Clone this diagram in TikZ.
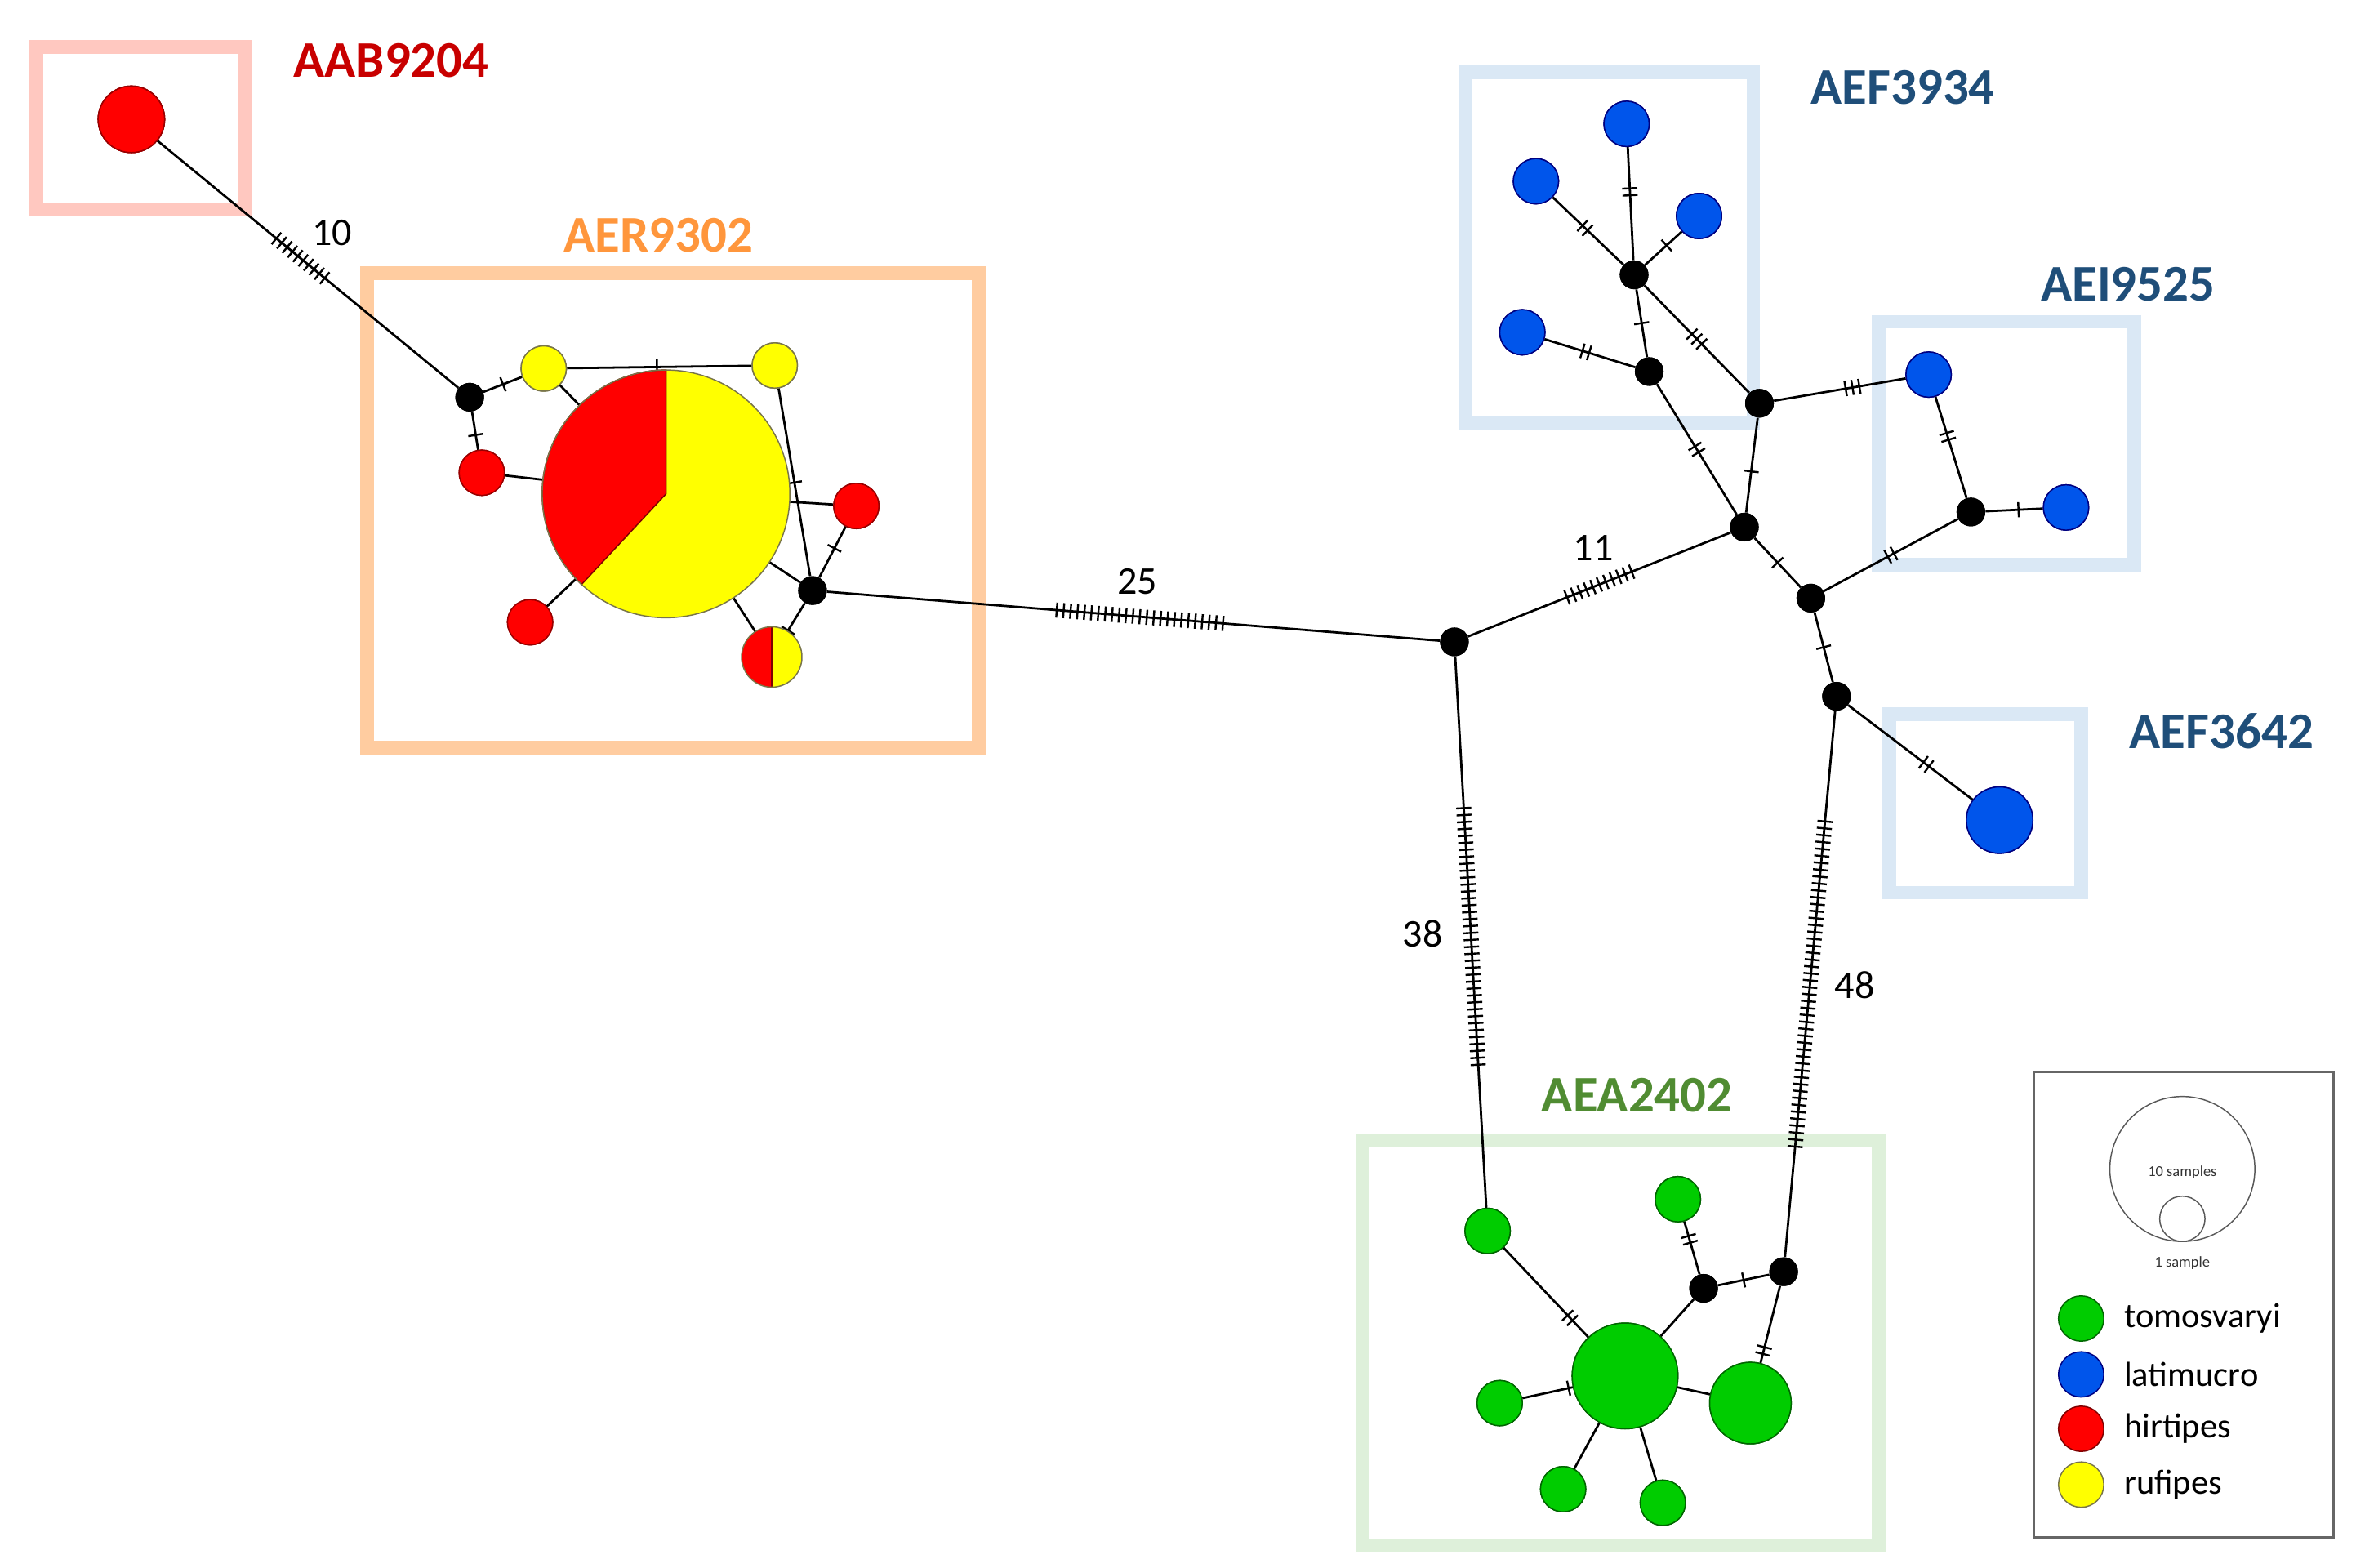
\documentclass[tikz,border=0pt]{standalone}
\usepackage{fontspec}
\setmainfont{Carlito}
\usetikzlibrary{calc}
\definecolor{cred}{RGB}{255,0,0}
\definecolor{cyel}{RGB}{255,255,0}
\definecolor{cblue}{RGB}{0,85,235}
\definecolor{cgreen}{RGB}{0,204,0}
\definecolor{bpink}{RGB}{255,200,192}
\definecolor{borange}{RGB}{255,204,160}
\definecolor{bblue}{RGB}{218,232,245}
\definecolor{bgreen}{RGB}{222,240,218}
\definecolor{tdred}{RGB}{200,0,0}
\definecolor{torange}{RGB}{255,150,60}
\definecolor{tblue}{RGB}{31,78,121}
\definecolor{tgreen}{RGB}{80,140,50}
\newcommand\hatch[4]{%
  \path (#1.center) -- coordinate[pos=#4](hm) (#2.center);
  \foreach \i in {1,...,#3}{%
    \pgfmathsetmacro\dd{(\i-(#3+1)/2)*4.6}
    \coordinate (hp) at ($(hm)!\dd pt!(#2.center)$);
    \draw[line width=1.3pt] ($(hp)!5pt!90:(#2.center)$) -- ($(hp)!5pt!-90:(#2.center)$);
  }}
\begin{document}
\begin{tikzpicture}[x=1pt,y=-1pt,
  hap/.style={circle,draw=black!70!green,line width=0.8pt,inner sep=0pt,minimum size=30pt},
  R/.style={hap,fill=cred,draw=red!60!black},
  Y/.style={hap,fill=cyel,draw=yellow!40!black},
  B/.style={hap,fill=cblue,draw=blue!50!black},
  G/.style={hap,fill=cgreen,draw=green!40!black},
  J/.style={circle,fill=black,inner sep=0pt,minimum size=19pt},
  box/.style={line width=9pt},
  lab/.style={font=\bfseries\fontsize{34}{36}\selectfont},
  num/.style={font=\fontsize{26}{28}\selectfont},
  edge/.style={line width=1.5pt}]
\useasboundingbox (0,0) rectangle (1560,1038);
% boxes
\draw[box,bpink] (24,31) rectangle (162,139);
\draw[box,borange] (243,181) rectangle (648,495);
\draw[box,bblue] (970,48) rectangle (1161,280);
\draw[box,bblue] (1244,213) rectangle (1413,374);
\draw[box,bblue] (1251,473) rectangle (1378,591);
\draw[box,bgreen] (902,755) rectangle (1244,1023);
% labels
\node[lab,text=tdred] (lAAB) at (259,40) {AAB9204};
\node[lab,text=torange] (lAER) at (436,156) {AER9302};
\node[lab,text=tblue] (lF34) at (1260,58) {AEF3934};
\node[lab,text=tblue] (lI95) at (1409,188) {AEI9525};
\node[lab,text=tblue] (lF36) at (1471,484) {AEF3642};
\node[lab,text=tgreen] (lAEA) at (1084,725) {AEA2402};
% nodes
\node[R,minimum size=44pt] (aab) at (87,79) {};
\node[J] (j1) at (311,263) {};
\node[Y] (y1) at (360,244) {};
\node[Y] (y2) at (513,242) {};
\node[R] (r1) at (319,313) {};
\node[R] (r2) at (567,335) {};
\node[R] (r3) at (351,412) {};
\node[circle,inner sep=0pt,minimum size=164pt] (pie) at (441,327) {};
\node[circle,inner sep=0pt,minimum size=40pt] (pm) at (511,435) {};
\node[J] (j2) at (538,391) {};
\node[J] (j3) at (963,425) {};
\node[J] (j4) at (1155,349) {};
\node[J] (j5) at (1199,396) {};
\node[J] (j6) at (1216,461) {};
\node[J] (j7) at (1165,267) {};
\node[J] (j8) at (1092,246) {};
\node[J] (j9) at (1082,182) {};
\node[J] (j10) at (1305,339) {};
\node[B] (b1) at (1077,82) {};
\node[B] (b2) at (1017,120) {};
\node[B] (b3) at (1125,143) {};
\node[B] (b4) at (1008,220) {};
\node[B] (b5) at (1277,248) {};
\node[B] (b6) at (1368,336) {};
\node[B,minimum size=44pt] (b7) at (1324,543) {};
\node[G] (g1) at (985,815) {};
\node[G] (g2) at (1111,794) {};
\node[G,minimum size=70pt] (g3) at (1076,911) {};
\node[G,minimum size=54pt] (g4) at (1159,929) {};
\node[G] (g5) at (993,929) {};
\node[G] (g6) at (1035,986) {};
\node[G] (g7) at (1101,995) {};
\node[J] (j11) at (1128,853) {};
\node[J] (j12) at (1181,842) {};
% edges (behind nodes)
\begin{scope}[on background layer/.try]
\end{scope}
\draw[edge] (aab) -- (j1); \hatch{aab}{j1}{10}{0.5}
\draw[edge] (j1) -- (y1); \hatch{j1}{y1}{1}{0.45}
\draw[edge] (j1) -- (r1); \hatch{j1}{r1}{1}{0.5}
\draw[edge] (y1) -- (pie);
\draw[edge] (y1) -- (y2); \hatch{y1}{y2}{1}{0.49}
\draw[edge] (y2) -- (j2); \hatch{y2}{j2}{1}{0.52}
\draw[edge] (r1) -- (pie);
\draw[edge] (r3) -- (pie);
\draw[edge] (r2) -- (pie);
\draw[edge] (r2) -- (j2); \hatch{r2}{j2}{1}{0.5}
\draw[edge] (pie) -- (j2);
\draw[edge] (pie) -- (pm);
\draw[edge] (j2) -- (pm); \hatch{j2}{pm}{1}{0.6}
\draw[edge] (j2) -- (j3); \hatch{j2}{j3}{25}{0.51}
\draw[edge] (j3) -- (j4); \hatch{j3}{j4}{11}{0.5}
\draw[edge] (j3) -- (g1); \hatch{j3}{g1}{38}{0.5}
\draw[edge] (j9) -- (b1); \hatch{j9}{b1}{2}{0.55}
\draw[edge] (j9) -- (b2); \hatch{j9}{b2}{2}{0.5}
\draw[edge] (j9) -- (b3); \hatch{j9}{b3}{1}{0.5}
\draw[edge] (j9) -- (j8); \hatch{j9}{j8}{1}{0.5}
\draw[edge] (j9) -- (j7); \hatch{j9}{j7}{3}{0.5}
\draw[edge] (b4) -- (j8); \hatch{b4}{j8}{2}{0.5}
\draw[edge] (j8) -- (j4); \hatch{j8}{j4}{2}{0.5}
\draw[edge] (j7) -- (j4); \hatch{j7}{j4}{1}{0.55}
\draw[edge] (j7) -- (b5); \hatch{j7}{b5}{3}{0.55}
\draw[edge] (b5) -- (j10); \hatch{b5}{j10}{2}{0.45}
\draw[edge] (j10) -- (b6); \hatch{j10}{b6}{1}{0.5}
\draw[edge] (j10) -- (j5); \hatch{j10}{j5}{2}{0.5}
\draw[edge] (j4) -- (j5); \hatch{j4}{j5}{1}{0.5}
\draw[edge] (j5) -- (j6); \hatch{j5}{j6}{1}{0.5}
\draw[edge] (j6) -- (b7); \hatch{j6}{b7}{2}{0.55}
\draw[edge] (j6) -- (j12); \hatch{j6}{j12}{48}{0.5}
\draw[edge] (j12) -- (j11); \hatch{j12}{j11}{1}{0.5}
\draw[edge] (j11) -- (g2); \hatch{j11}{g2}{2}{0.55}
\draw[edge] (j11) -- (g3);
\draw[edge] (j12) -- (g4); \hatch{j12}{g4}{2}{0.6}
\draw[edge] (g1) -- (g3); \hatch{g1}{g3}{2}{0.6}
\draw[edge] (g3) -- (g4); \hatch{g3}{g4}{1}{0.35}
\draw[edge] (g3) -- (g5); \hatch{g3}{g5}{1}{0.45}
\draw[edge] (g3) -- (g6); \hatch{g3}{g6}{1}{0.35}
\draw[edge] (g3) -- (g7); \hatch{g3}{g7}{1}{0.35}
% redraw nodes on top
\foreach \n/\s in {aab/R,y1/Y,y2/Y,r1/R,r2/R,r3/R,b1/B,b2/B,b3/B,b4/B,b5/B,b6/B,b7/B,g1/G,g2/G,g3/G,g4/G,g5/G,g6/G,g7/G}{}
\path[R,fill=cred] (aab.center) circle (22);
\foreach \n in {y1,y2}{\fill[cyel,draw=yellow!40!black,line width=0.8pt] (\n.center) circle (15);}
\foreach \n in {r1,r2,r3}{\fill[cred,draw=red!60!black,line width=0.8pt] (\n.center) circle (15);}
\fill[cred,draw=red!60!black,line width=0.8pt] (aab.center) circle (22);
\foreach \n in {b1,b2,b3,b4,b5,b6}{\fill[cblue,draw=blue!50!black,line width=0.8pt] (\n.center) circle (15);}
\fill[cblue,draw=blue!50!black,line width=0.8pt] (b7.center) circle (22);
\foreach \n in {g1,g2,g5,g6,g7}{\fill[cgreen,draw=green!40!black,line width=0.8pt] (\n.center) circle (15);}
\fill[cgreen,draw=green!40!black,line width=0.8pt] (g3.center) circle (35);
\fill[cgreen,draw=green!40!black,line width=0.8pt] (g4.center) circle (27);
\foreach \n in {j1,j2,j3,j4,j5,j6,j7,j8,j9,j10,j11,j12}{\fill (\n.center) circle (9.5);}
% pies
\fill[cyel] (pie.center) circle (82);
\fill[cred,draw=red!50!black,line width=0.8pt] (pie.center) -- ++(0,-82) arc[start angle=-90,end angle=-227,radius=82] -- cycle;
\draw[yellow!40!black,line width=0.8pt] (pie.center) circle (82);
\fill[cyel] (pm.center) circle (20);
\fill[cred] (pm.center) -- ++(0,-20) arc[start angle=-90,end angle=-270,radius=20] -- cycle;
\draw[red!50!black,line width=0.8pt] ($(pm.center)+(0,-20)$) -- ($(pm.center)+(0,20)$);
\draw[yellow!40!black,line width=0.8pt] (pm.center) circle (20);
% numbers
\node[num] (n10) at (220,154) {10};
\node[num] (n25) at (753,385) {25};
\node[num] (n11) at (1055,363) {11};
\node[num] (n38) at (942,618) {38};
\node[num] (n48) at (1228,652) {48};
% legend
\draw[gray!80!black,line width=1.3pt] (1347,710) rectangle (1545,1018);
\node[circle,draw=gray!70!black,line width=0.8pt,minimum size=96pt,inner sep=0pt] (l10) at (1445,774) {};
\node[circle,draw=gray!70!black,line width=0.8pt,minimum size=30pt,inner sep=0pt] (l1) at (1445,807) {};
\node[font=\fontsize{10}{12}\selectfont,text=black!80] (t10) at (1445,776) {10 samples};
\node[font=\fontsize{10}{12}\selectfont,text=black!80] (t1) at (1445,836) {1 sample};
\tikzset{leg/.style={font=\fontsize{23}{25}\selectfont,anchor=west}}
\fill[cgreen,draw=green!40!black,line width=0.8pt] (1378,873) circle (15);
\fill[cblue,draw=blue!50!black,line width=0.8pt] (1378,910) circle (15);
\fill[cred,draw=red!50!black,line width=0.8pt] (1378,946) circle (15);
\fill[cyel,draw=yellow!40!black,line width=0.8pt] (1378,983) circle (15);
\node[leg] (e1) at (1403,873) {tomosvaryi};
\node[leg] (e2) at (1403,910) {latimucro};
\node[leg] (e3) at (1403,946) {hirtipes};
\node[leg] (e4) at (1403,983) {rufipes};
\end{tikzpicture}
\end{document}
